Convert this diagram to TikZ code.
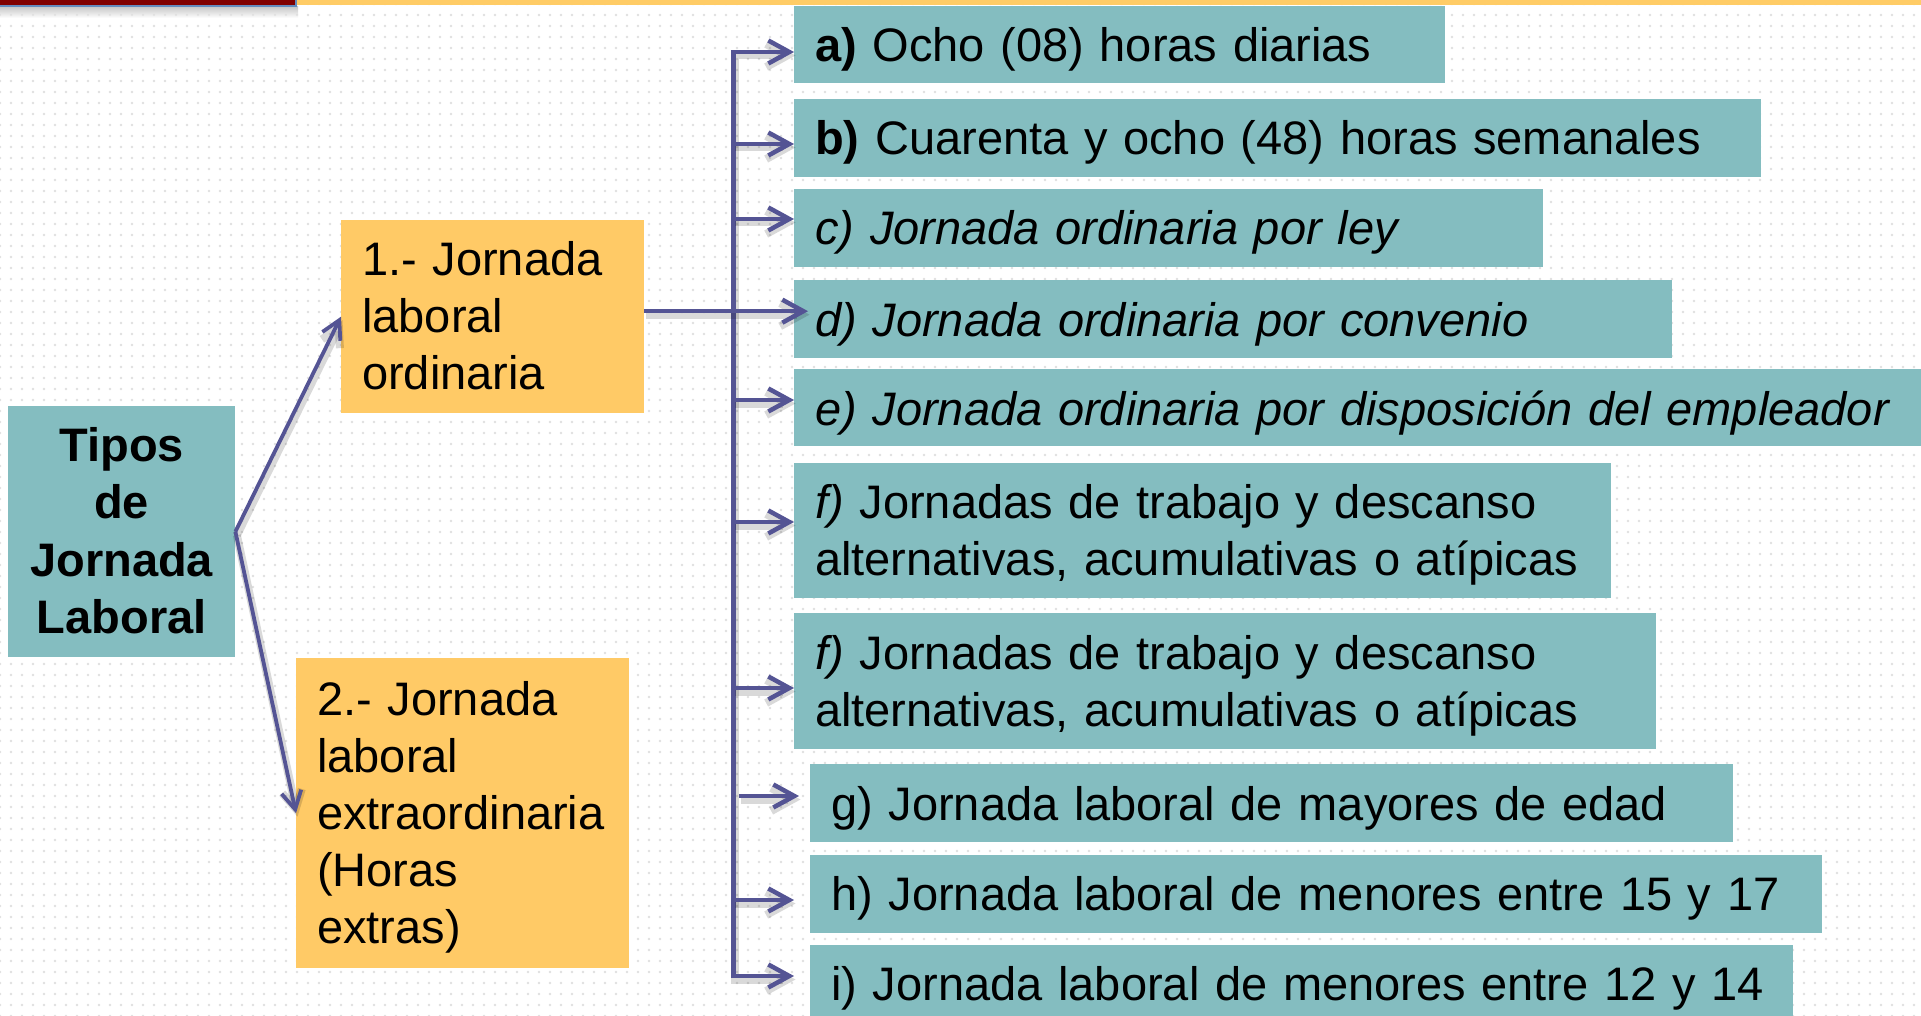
\documentclass[tikz,border=0pt]{standalone}
\usepackage{fontspec}
\setmainfont{Liberation Sans}
\usetikzlibrary{arrows.meta,calc,patterns.meta}
\definecolor{tealbox}{RGB}{132,189,192}
\definecolor{ybox}{RGB}{255,202,102}
\definecolor{arrc}{RGB}{84,84,148}
\definecolor{topred}{RGB}{128,0,0}
\definecolor{topblue}{RGB}{100,140,190}
\definecolor{topyellow}{RGB}{255,204,102}
\begin{document}
\begin{tikzpicture}[x=1pt,y=-1pt,
  tbox/.style={fill=tealbox, inner sep=0pt, anchor=north west},
  ybx/.style={fill=ybox, inner sep=0pt, anchor=north west},
  txt/.style={anchor=base west, inner sep=0pt, align=left, text width=1150pt,
    font=\fontsize{47}{57}\selectfont},
  shadowed/.style={preaction={draw=black, draw opacity=0.15, line width=8pt,
    transform canvas={xshift=1.5pt,yshift=-3.5pt}}},
  arr/.style={draw=arrc, line width=4.5pt, -{Straight Barb[length=21pt,width=23pt]}, shadowed},
  arrboth/.style={draw=arrc, line width=4.5pt, {Straight Barb[length=21pt,width=23pt]}-{Straight Barb[length=21pt,width=23pt]}, line join=miter, shadowed},
  arrthin/.style={draw=arrc, line width=3.8pt, -{Straight Barb[length=18pt,width=20pt]}, shadowed}]
\useasboundingbox (0,0) rectangle (1921,1016);
% background
\fill[white] (0,0) rectangle (1921,1016);
\fill[pattern={Dots[distance=11pt,radius=1.3pt]}, pattern color=black!12] (0,0) rectangle (1921,1016);
% top bars
\shade[top color=black!35, bottom color=white, opacity=0.6] (0,7) rectangle (298,18);
\fill[topblue] (0,0) rectangle (297,7.5);
\fill[topred] (0,0) rectangle (295,5.5);
\fill[topyellow] (297,0) rectangle (1921,4.7);

% boxes
\node[tbox, minimum width=227pt, minimum height=251pt] (T) at (8,406) {};
\node[ybx, minimum width=303pt, minimum height=193pt] (B1) at (341,220) {};
\node[ybx, minimum width=333pt, minimum height=310pt] (B2) at (296,658) {};
\node[tbox, minimum width=651pt, minimum height=77pt] (A) at (794,6) {};
\node[tbox, minimum width=967pt, minimum height=78pt] (B) at (794,99) {};
\node[tbox, minimum width=749pt, minimum height=78pt] (C) at (794,189) {};
\node[tbox, minimum width=878pt, minimum height=78pt] (D) at (794,280) {};
\node[tbox, minimum width=1127pt, minimum height=77pt] (E) at (794,369) {};
\node[tbox, minimum width=817pt, minimum height=134.5pt] (F1) at (794,463) {};
\node[tbox, minimum width=862pt, minimum height=135.5pt] (F2) at (794,613) {};
\node[tbox, minimum width=923pt, minimum height=78pt] (G) at (810,764) {};
\node[tbox, minimum width=1012pt, minimum height=78pt] (H) at (810,855) {};
\node[tbox, minimum width=983pt, minimum height=71pt] (I) at (810,945) {};

% texts
\node[txt, anchor=base, align=center, text width=227pt, font=\fontsize{47}{57.5}\selectfont\bfseries]
  (tT) at ([shift={(0,55)}]T.north) {Tipos\\de\\Jornada\\Laboral};
\node[txt] (t1) at ([shift={(21,56)}]B1.north west) {1.- Jornada\\laboral\\ordinaria};
\node[txt] (t2) at ([shift={(21,57)}]B2.north west) {2.- Jornada\\laboral\\extraordinaria\\(Horas\\extras)};
\node[txt] (tA) at ([shift={(21,56)}]A.north west) {\textbf{a)} Ocho (08) horas diarias};
\node[txt] (tB) at ([shift={(21,56)}]B.north west) {\textbf{b)} Cuarenta y ocho (48) horas semanales};
\node[txt] (tC) at ([shift={(21,56)}]C.north west) {\textit{c) Jornada ordinaria por ley}};
\node[txt] (tD) at ([shift={(21,56)}]D.north west) {\textit{d) Jornada ordinaria por convenio}};
\node[txt] (tE) at ([shift={(21,56)}]E.north west) {\textit{e) Jornada ordinaria por disposición del empleador}};
\node[txt] (tF1) at ([shift={(21,55)}]F1.north west) {\textit{f)} Jornadas de trabajo y descanso\\alternativas, acumulativas o atípicas};
\node[txt] (tF2) at ([shift={(21,56)}]F2.north west) {\textit{f)} Jornadas de trabajo y descanso\\alternativas, acumulativas o atípicas};
\node[txt] (tG) at ([shift={(21,56)}]G.north west) {g) Jornada laboral de mayores de edad};
\node[txt] (tH) at ([shift={(21,55)}]H.north west) {h) Jornada laboral de menores entre 15 y 17};
\node[txt] (tI) at ([shift={(21,55)}]I.north west) {i) Jornada laboral de menores entre 12 y 14};

% connectors
\coordinate (ta) at (733.5,52);
\coordinate (tb) at (733.5,144);
\coordinate (tc) at (733.5,219);
\coordinate (te) at (733.5,400);
\coordinate (tf1) at (733.5,522);
\coordinate (tf2) at (733.5,688);
\coordinate (th) at (733.5,900);
\coordinate (ti) at (733.5,976);
\coordinate (g0) at (739,796);
\coordinate (m) at ([yshift=5.5pt]B1.east);

\draw[arrboth] (ta -| A.west) -- (ta) -- (ti) -- (ti -| A.west);
\draw[arr] (tb) -- (tb -| B.west);
\draw[arr] (tc) -- (tc -| C.west);
\draw[arr] (te) -- (te -| E.west);
\draw[arr] (tf1) -- (tf1 -| F1.west);
\draw[arr] (tf2) -- (tf2 -| F2.west);
\draw[arr] (th) -- ($(th -| H.west)+(-16,0)$);
\draw[arr] (g0) -- ($(g0 -| G.west)+(-11,0)$);
\draw[arr] (m) -- ($(m -| D.west)+(14,0)$);
\draw[arrthin] (T.east) -- (B1.west);
\draw[arrthin] (T.east) -- (B2.west);
\end{tikzpicture}
\end{document}
